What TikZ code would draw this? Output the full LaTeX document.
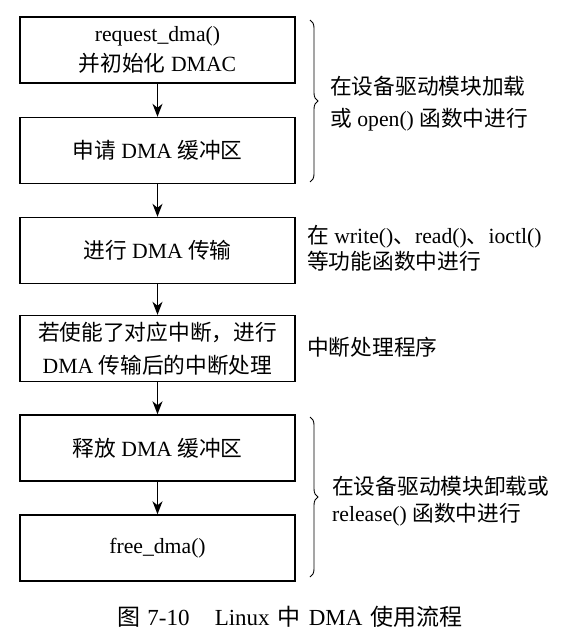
\documentclass[tikz,border=0pt]{standalone}
\usepackage{fontspec}
\setmainfont{Liberation Serif}
\newfontfamily\cjkfont{Noto Sans CJK SC}
\newcommand\zh[1]{{\cjkfont #1}}
\usetikzlibrary{arrows.meta,decorations.pathreplacing}
\tikzset{
  stepbox/.style={draw, line width=1.4pt, minimum width=275pt, minimum height=66pt, inner sep=0pt, align=center},
  flow/.style={line width=1.3pt, -{Stealth[length=13pt,width=10pt,inset=4pt]}},
  sidetext/.style={anchor=west, inner sep=0pt, align=left},
  bracestyle/.style={line width=0.9pt, decorate, decoration={brace, amplitude=8pt}},
  lead/.style={font=\fontsize{21.7pt}{#1}\selectfont},
}
\begin{document}
\begin{tikzpicture}[x=1pt,y=-1pt,font=\fontsize{21.7pt}{26pt}\selectfont]
\useasboundingbox (0,0) rectangle (569,644);
\node[stepbox,lead=30pt] (b1) at (157.5,50) {request\_dma()\\\zh{并初始化} DMAC};
\node[stepbox] (b2) at (157.5,150.5) {\zh{申请} DMA \zh{缓冲区}};
\node[stepbox] (b3) at (157.5,250.5) {\zh{进行} DMA \zh{传输}};
\node[stepbox,lead=33pt] (b4) at (157.5,348.5) {\zh{若使能了对应中断，进行}\\DMA \zh{传输后的中断处理}};
\node[stepbox] (b5) at (157.5,448) {\zh{释放} DMA \zh{缓冲区}};
\node[stepbox] (b6) at (157.5,548) {free\_dma()};
\draw[flow] (b1) -- (b2);
\draw[flow] (b2) -- (b3);
\draw[flow] (b3) -- (b4);
\draw[flow] (b4) -- (b5);
\draw[flow] (b5) -- (b6);
\coordinate (br1a) at (310,20);
\coordinate (br1b) at (310,182);
\coordinate (br2a) at (310,417);
\coordinate (br2b) at (310,577);
\draw[bracestyle] (br1a) -- (br1b);
\draw[bracestyle] (br2a) -- (br2b);
\node[sidetext,lead=32pt] (t1) at (330,104) {\zh{在设备驱动模块加载}\\\zh{或} open() \zh{函数中进行}};
\node[sidetext,lead=26pt] (t2) at (307,248) {\zh{在} write()\zh{、}read()\zh{、}ioctl()\\\zh{等功能函数中进行}};
\node[sidetext] (t3) at (307,347) {\zh{中断处理程序}};
\node[sidetext,lead=27pt] (t4) at (332,501.5) {\zh{在设备驱动模块卸载或}\\release() \zh{函数中进行}};
\node[inner sep=0pt,font=\fontsize{23pt}{28pt}\selectfont] (cap) at (290,617) {\zh{图}\hspace{0.3em}7-10\hspace{1.1em}Linux\hspace{0.35em}\zh{中}\hspace{0.35em}DMA\hspace{0.35em}\zh{使用流程}};
\end{tikzpicture}
\end{document}
